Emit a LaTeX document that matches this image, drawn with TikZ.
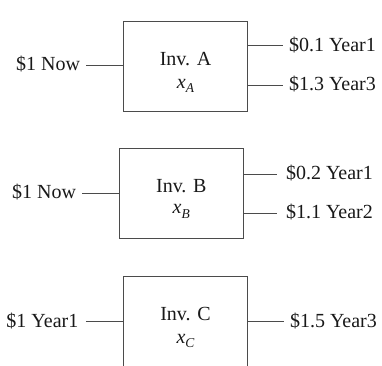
\documentclass[tikz,border=0pt]{standalone}
\usepackage{fontspec}
\setmainfont{Liberation Serif}
\definecolor{linegray}{RGB}{75,75,75}
\definecolor{textcol}{RGB}{25,25,25}
\newcommand{\varsub}[1]{\textit{x}\raisebox{-4.7pt}{\fontsize{13.5}{14}\selectfont\textit{#1}}}
\begin{document}
\begin{tikzpicture}[x=1pt,y=-1pt,
  box/.style={draw=linegray, line width=1pt, minimum width=124.4pt, minimum height=90pt, inner sep=0pt, outer sep=0pt},
  lbl/.style={inner sep=0pt, outer sep=0pt, text height=13pt, text depth=2pt, font=\fontsize{20}{22}\selectfont, text=textcol},
  wire/.style={draw=linegray, line width=1pt}]
\useasboundingbox (0,0) rectangle (382,365);
% Investment A
\node[box] (A) at (185.5,66) {};
\node[lbl, anchor=base] (At) at (185.5,65.7) {Inv. A};
\node[lbl, anchor=base] (Ax) at (185.5,88) {\varsub{A}};
\node[lbl, anchor=east] (Ain) at (80,65) {\$1 Now};
\node[lbl, anchor=west] (A1) at (289,45.7) {\$0.1 Year1};
\node[lbl, anchor=west] (A3) at (289,85) {\$1.3 Year3};
\draw[wire] ([xshift=6pt]Ain.east) -- (A.west |- Ain.east);
\draw[wire] (A.east |- A1.west) -- ([xshift=-6pt]A1.west);
\draw[wire] (A.east |- A3.west) -- ([xshift=-6pt]A3.west);
% Investment B
\node[box] (B) at (181.3,193.8) {};
\node[lbl, anchor=base] (Bt) at (181.3,192.7) {Inv. B};
\node[lbl, anchor=base] (Bx) at (181.3,213.3) {\varsub{B}};
\node[lbl, anchor=east] (Bin) at (76,193.3) {\$1 Now};
\node[lbl, anchor=west] (B1) at (286,174.3) {\$0.2 Year1};
\node[lbl, anchor=west] (B2) at (286,213.3) {\$1.1 Year2};
\draw[wire] ([xshift=6pt]Bin.east) -- (B.west |- Bin.east);
\draw[wire] (B.east |- B1.west) -- ([xshift=-9pt]B1.west);
\draw[wire] (B.east |- B2.west) -- ([xshift=-9pt]B2.west);
% Investment C
\node[box, minimum height=94pt] (C) at (185.5,323) {};
\node[lbl, anchor=base] (Ct) at (185.5,320) {Inv. C};
\node[lbl, anchor=base] (Cx) at (185.5,343) {\varsub{C}};
\node[lbl, anchor=east] (Cin) at (78.3,321.7) {\$1 Year1};
\node[lbl, anchor=west] (C3) at (290,321.7) {\$1.5 Year3};
\draw[wire] ([xshift=7.5pt]Cin.east) -- (C.west |- Cin.east);
\draw[wire] (C.east |- C3.west) -- ([xshift=-6pt]C3.west);
\end{tikzpicture}
\end{document}
